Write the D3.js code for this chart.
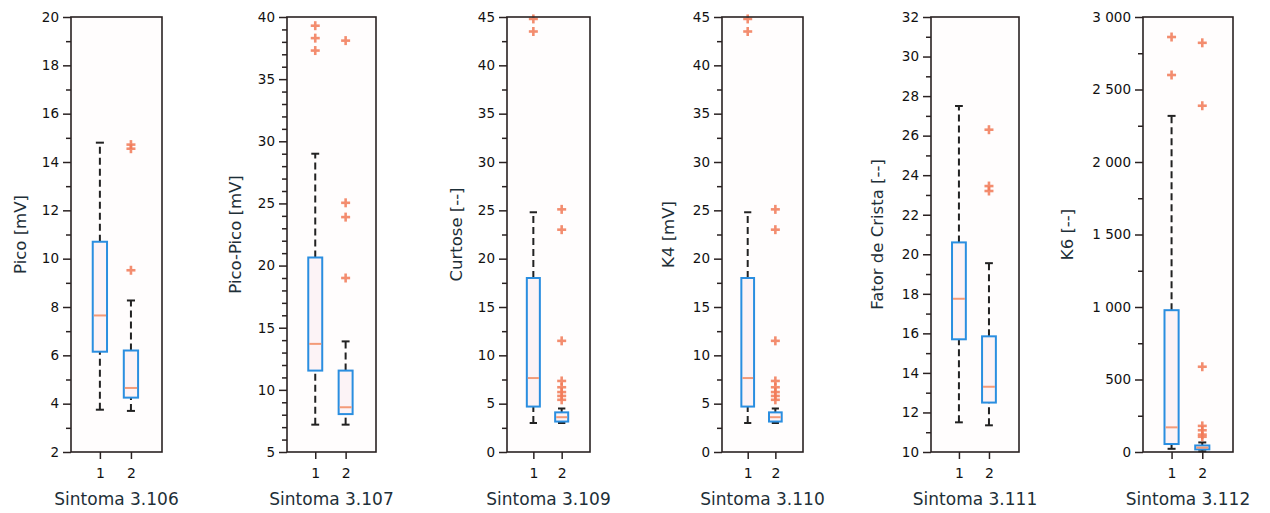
<!DOCTYPE html>
<html>
<head>
<meta charset="utf-8">
<script src="https://cdn.jsdelivr.net/npm/d3@7"></script>
<style>
  body { margin: 0; background: #fff; }
  text { font-family: "DejaVu Sans", sans-serif; }
</style>
</head>
<body>
<div id="vis"></div>
<script>
// one panel per symptom, two groups (1, 2) in each
const sintomas = ["Sintoma 3.106", "Sintoma 3.107", "Sintoma 3.109", "Sintoma 3.110", "Sintoma 3.111", "Sintoma 3.112"];
const yTitles = ["Pico [mV]", "Pico-Pico [mV]", "Curtose [--]", "K4 [mV]", "Fator de Crista [--]", "K6 [--]"];
const yDomains = [[2, 20], [5, 40], [0, 45], [0, 45], [10, 32], [0, 3000]];
const majorSteps = [2, 5, 5, 5, 2, 500];
const minorSteps = [1, 1, 2.5, 2.5, 1, 250];
const groups = [1, 2];

// [lower whisker, Q1, median, Q3, upper whisker]
const stats1 = [
  [3.75, 6.15, 7.65, 10.7, 14.8],
  [7.2, 11.55, 13.7, 20.65, 29.0],
  [3.0, 4.7, 7.65, 18.0, 24.8],
  [3.0, 4.7, 7.65, 18.0, 24.8],
  [11.5, 15.7, 17.75, 20.6, 27.5],
  [22, 55, 170, 978, 2318]
];
const stats2 = [
  [3.7, 4.25, 4.65, 6.2, 8.27],
  [7.2, 8.05, 8.6, 11.55, 13.9],
  [3.0, 3.15, 3.6, 4.1, 4.5],
  [3.0, 3.15, 3.6, 4.1, 4.5],
  [11.35, 12.5, 13.3, 15.85, 19.55],
  [5, 18, 30, 45, 66]
];
const outliers1 = [
  [],
  [39.3, 38.3, 37.3],
  [44.8, 43.5],
  [44.8, 43.5],
  [],
  [2862, 2600]
];
const outliers2 = [
  [14.72, 14.55, 9.52],
  [38.1, 25.05, 23.9, 19.0],
  [25.1, 23.0, 11.5, 7.35, 6.7, 6.2, 5.8, 5.4],
  [25.1, 23.0, 11.5, 7.35, 6.7, 6.2, 5.8, 5.4],
  [26.3, 23.45, 23.2],
  [2822, 2388, 588, 180, 150, 120, 105]
];

// frame placement of each panel (pixels)
const frameLeft = [71, 287, 507, 722, 931, 1143];
const frameRight = [162, 376, 590, 803, 1019, 1233];
const titleX = [20, 235, 456, 668, 877, 1067];
const plotTop = 17, plotBottom = 452;

const svg = d3.select('#vis')
  .append('svg')
  .attr('width', 1270)
  .attr('height', 513);

const fmtSpace = d3.formatLocale({ decimal: ",", thousands: " ", grouping: [3], currency: ["", ""] }).format(",d");

sintomas.forEach(function(name, i) {
  let x = d3.scaleLinear().domain([0.07, 3]).range([frameLeft[i], frameRight[i]]);
  let y = d3.scaleLinear().domain(yDomains[i]).range([plotBottom, plotTop]);
  let g = svg.append('g');

  g.append('rect')
    .attr('x', frameLeft[i]).attr('y', plotTop)
    .attr('width', frameRight[i] - frameLeft[i]).attr('height', plotBottom - plotTop)
    .attr('fill', '#fffdfd');

  let majors = d3.range(yDomains[i][0], yDomains[i][1] + 0.001, majorSteps[i]);
  let minors = d3.range(yDomains[i][0], yDomains[i][1] + 0.001, minorSteps[i])
    .filter(v => majors.indexOf(v) < 0);

  // minor ticks
  g.append('g')
    .attr('transform', 'translate(' + frameLeft[i] + ',0)')
    .call(d3.axisLeft(y).tickValues(minors).tickSize(5).tickFormat(''))
    .call(a => a.select('.domain').remove());

  // major ticks
  let yAxis = g.append('g')
    .attr('transform', 'translate(' + frameLeft[i] + ',0)')
    .call(d3.axisLeft(y).tickValues(majors).tickSize(8).tickPadding(4)
      .tickFormat(i == 5 ? fmtSpace : d3.format('d')));
  yAxis.select('.domain').remove();
  yAxis.selectAll('text').attr('font-size', 13.5).attr('fill', '#111');

  let xAxis = g.append('g')
    .attr('transform', 'translate(0,' + plotBottom + ')')
    .call(d3.axisBottom(x).tickValues(groups).tickSize(7).tickPadding(9).tickFormat(d3.format('d')));
  xAxis.select('.domain').remove();
  xAxis.selectAll('text').attr('font-size', 14).attr('fill', '#111');

  g.selectAll('.tick line').attr('stroke', '#2a2222').attr('stroke-width', 1.5);

  // boxes
  [stats1[i], stats2[i]].forEach(function(s, k) {
    let cx = x(groups[k]);
    let bw = x(1.23) - x(1);
    let cw = x(1.13) - x(1);

    g.append('line')
      .attr('x1', cx).attr('x2', cx).attr('y1', y(s[3])).attr('y2', y(s[4]))
      .attr('stroke', '#222').attr('stroke-width', 2).attr('stroke-dasharray', '7,4');
    g.append('line')
      .attr('x1', cx).attr('x2', cx).attr('y1', y(s[0])).attr('y2', y(s[1]))
      .attr('stroke', '#222').attr('stroke-width', 2).attr('stroke-dasharray', '7,4');
    [s[0], s[4]].forEach(function(v) {
      g.append('line')
        .attr('x1', cx - cw).attr('x2', cx + cw).attr('y1', y(v)).attr('y2', y(v))
        .attr('stroke', '#222').attr('stroke-width', 2);
    });

    g.append('rect')
      .attr('x', cx - bw).attr('y', y(s[3]))
      .attr('width', 2 * bw).attr('height', y(s[1]) - y(s[3]))
      .attr('fill', '#fcf3f6')
      .attr('stroke', '#2a8ee0').attr('stroke-width', 2);

    g.append('line')
      .attr('x1', cx - bw + 1).attr('x2', cx + bw - 1).attr('y1', y(s[2])).attr('y2', y(s[2]))
      .attr('stroke', '#f39a78').attr('stroke-width', 2);
  });

  // outliers as "+"
  [outliers1[i], outliers2[i]].forEach(function(list, k) {
    let cx = x(groups[k]);
    list.forEach(function(v) {
      let p = g.append('g').attr('transform', 'translate(' + cx + ',' + y(v) + ')')
        .attr('stroke', '#f27a57').attr('stroke-width', 2.6).attr('opacity', 0.85);
      p.append('line').attr('x1', -4.5).attr('x2', 4.5);
      p.append('line').attr('y1', -4.5).attr('y2', 4.5);
    });
  });

  // frame
  g.append('rect')
    .attr('x', frameLeft[i]).attr('y', plotTop)
    .attr('width', frameRight[i] - frameLeft[i]).attr('height', plotBottom - plotTop)
    .attr('fill', 'none').attr('stroke', '#2a2222').attr('stroke-width', 1.6);

  g.append('text')
    .attr('x', (frameLeft[i] + frameRight[i]) / 2).attr('y', 505)
    .attr('text-anchor', 'middle')
    .attr('font-size', 17).attr('fill', '#1e2f38')
    .text(name);

  g.append('text')
    .attr('transform', 'translate(' + (titleX[i] + 6) + ',' + ((plotTop + plotBottom) / 2) + ') rotate(-90)')
    .attr('text-anchor', 'middle')
    .attr('font-size', 16.5).attr('fill', '#1e2f38')
    .text(yTitles[i]);
});
</script>
</body>
</html>
